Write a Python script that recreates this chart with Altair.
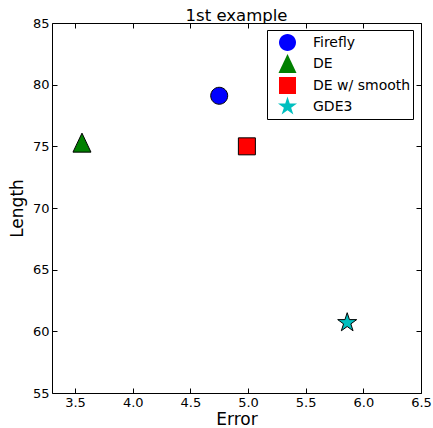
import math
import altair as alt
import pandas as pd

# Results for each optimisation method
methods = ["Firefly", "DE", "DE w/ smooth", "GDE3"]
errors = [4.75, 3.56, 4.99, 5.86]
lengths = [79.1, 75.3, 75.0, 60.7]
colors = ["#0000ff", "#008000", "#ff0000", "#00bfbf"]

x_ticks = [3.5, 4.0, 4.5, 5.0, 5.5, 6.0, 6.5]
y_ticks = [55, 60, 65, 70, 75, 80, 85]


def star_path(outer=1.0, inner=0.381966):
    pts = []
    for k in range(10):
        r = outer if k % 2 == 0 else inner
        a = math.radians(90 + 36 * k)
        pts.append(f"{r * math.cos(a):.4f},{-r * math.sin(a):.4f}")
    return "M" + "L".join(pts) + "Z"


circle = "M-0.85,0A0.85,0.85 0 1,0 0.85,0A0.85,0.85 0 1,0 -0.85,0Z"
triangle = "M0,-0.95L0.9,0.95L-0.9,0.95Z"
square = "M-0.85,-0.85L0.85,-0.85L0.85,0.85L-0.85,0.85Z"
shapes = [circle, triangle, square, star_path()]

df = pd.DataFrame({"method": methods, "error": errors, "length": lengths})

FONT = "DejaVu Sans"
xscale = alt.Scale(domain=[3.3, 6.5], nice=False, zero=False)
yscale = alt.Scale(domain=[55, 85], nice=False, zero=False)

tick_style = dict(tickSize=5, offset=-5, domain=False, grid=False,
                  tickColor="black", tickWidth=1, labelFlush=False,
                  labelOverlap=False)

points = alt.Chart(df).mark_point(
    filled=True, size=400, stroke="black", strokeWidth=1, opacity=1
).encode(
    x=alt.X("error:Q", scale=xscale, title="Error",
            axis=alt.Axis(values=x_ticks, format=".1f", labelPadding=3,
                          titlePadding=2, **tick_style)),
    y=alt.Y("length:Q", scale=yscale, title="Length",
            axis=alt.Axis(values=y_ticks, labelPadding=3, titlePadding=6,
                          **tick_style)),
    fill=alt.Fill("method:N", title=None,
                  scale=alt.Scale(domain=methods, range=colors),
                  legend=alt.Legend(orient="none", legendX=215, legendY=7)),
    shape=alt.Shape("method:N", title=None,
                    scale=alt.Scale(domain=methods, range=shapes)),
)

# Mirror ticks on the top and right edges of the frame
mirror = alt.Chart(df).mark_point(opacity=0).encode(
    x=alt.X("error:Q", scale=xscale, title=None,
            axis=alt.Axis(orient="top", values=x_ticks, labels=False, **tick_style)),
    y=alt.Y("length:Q", scale=yscale, title=None,
            axis=alt.Axis(orient="right", values=y_ticks, labels=False, **tick_style)),
)

chart = alt.layer(points, mirror).resolve_axis(
    x="independent", y="independent"
).properties(
    width=369, height=370,
    title=alt.TitleParams("1st example", font=FONT, fontSize=16.5,
                          fontWeight="normal", offset=-7, anchor="middle",
                          color="black"),
    autosize=alt.AutoSizeParams(type="none"),
    padding={"left": 52, "top": 23, "right": 12, "bottom": 35},
).configure_view(
    stroke="black", strokeWidth=1
).configure_axis(
    labelFont=FONT, labelFontSize=13, labelColor="black",
    titleFont=FONT, titleFontSize=17, titleFontWeight="normal", titleColor="black",
).configure_legend(
    strokeColor="black", fillColor="white", padding=2, rowPadding=-2.5,
    symbolSize=400, symbolOffset=8, symbolStrokeColor="black",
    symbolStrokeWidth=1, symbolOpacity=1, labelOffset=15,
    labelFont=FONT, labelFontSize=14, labelColor="black", cornerRadius=0,
)

chart.save("out.html", embed_options={"renderer": "svg", "actions": False})
